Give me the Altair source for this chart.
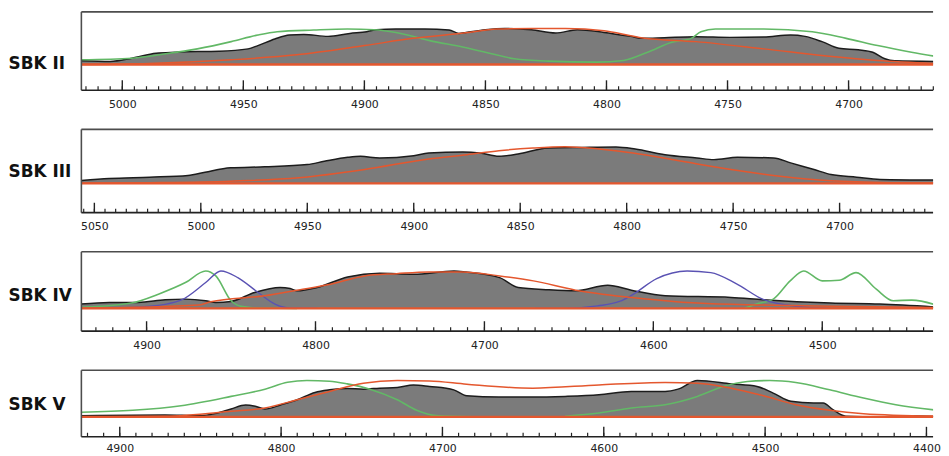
import altair as alt
import pandas as pd

# ---------------- data (heights in arbitrary units above baseline) ----------------
# SBK II
p1_grey_year = [5017, 5005, 4996, 4986, 4978, 4969, 4960, 4948, 4944, 4937, 4931, 4925, 4915, 4906, 4899,
                4895, 4887, 4875, 4865, 4861, 4858, 4850, 4842, 4831, 4821, 4812, 4801, 4790, 4785, 4776,
                4763, 4749, 4735, 4724, 4718, 4711, 4704, 4696, 4690, 4685, 4681, 4662]
p1_grey_val = [3.7, 3, 6.3, 11.3, 12.3, 13, 13.3, 15.7, 19, 25.7, 29.7, 30.3, 28.3, 31.3, 33,
               35, 35.7, 35.7, 34.7, 31.3, 32.3, 35, 36.3, 35, 31.7, 35, 32.3, 28.3, 26.3, 27,
               28, 27.3, 27.7, 29.7, 28.3, 23, 16.3, 14.7, 12.3, 5.7, 3.7, 3]
p1_red_year = [5017, 4989, 4955, 4928, 4900, 4880, 4859, 4845, 4831, 4817, 4801, 4790, 4785, 4763, 4735,
               4708, 4688, 4662]
p1_red_val = [0, 1, 4.7, 9.7, 19, 26.3, 31.7, 35.7, 36.3, 36.3, 34, 29, 26.7, 23, 15.7, 8.3, 4, 0.7]
p1_green_year = [5017, 4996, 4982, 4969, 4955, 4944, 4936, 4921, 4907, 4896, 4887, 4873, 4859, 4850, 4838,
                 4824, 4804, 4793, 4783, 4773, 4765, 4761, 4755, 4735, 4715, 4701, 4688, 4674, 4662]
p1_green_val = [4.7, 6.3, 10.7, 15.7, 23, 29.7, 33, 34.7, 35.7, 35, 32.3, 24, 17.3, 12.3, 5.7,
                3.3, 2.3, 4, 12.3, 22.3, 26.3, 33, 35.7, 35.7, 33, 26.3, 19, 12.3, 7.3]

# SBK III
p2_grey_year = [5056, 5043, 5024, 5006, 4998, 4986, 4970, 4950, 4942, 4931, 4925, 4916, 4900, 4893, 4877,
                4869, 4860, 4851, 4837, 4821, 4805, 4796, 4782, 4767, 4759, 4748, 4731, 4723, 4712, 4704,
                4692, 4681, 4652]
p2_grey_val = [3, 5, 6.3, 8, 11.3, 15.7, 16.7, 19, 22.3, 26.3, 27.3, 25.7, 28, 30.7, 31.7,
               30.7, 27.3, 29.7, 35.7, 36.3, 36.7, 34.7, 29, 25.7, 24, 26.3, 25.7, 20.7, 14, 9,
               6.3, 4, 3.3]
p2_red_year = [5056, 5024, 4986, 4954, 4923, 4893, 4875, 4860, 4844, 4829, 4813, 4797, 4774, 4751, 4728,
               4704, 4674, 4652]
p2_red_val = [0.3, 0.8, 2.3, 5.7, 14, 24.7, 29, 33, 35.7, 37, 34.7, 30.7, 22.3, 14, 7.3, 2.7, 0.7, 0.3]

# SBK IV
p3_grey_year = [4939, 4922, 4905, 4889, 4877, 4865, 4859, 4850, 4836, 4821, 4815, 4811, 4799, 4781, 4762,
                4742, 4718, 4711, 4691, 4680, 4662, 4646, 4627, 4613, 4593, 4554, 4535, 4515, 4495, 4466,
                4430]
p3_grey_val = [4.3, 6, 6, 8.7, 9.3, 7.7, 6, 7, 16, 21, 20, 17.7, 21, 31.7, 35.3,
               34.3, 37.7, 36.7, 31, 21, 18.7, 17.7, 23.3, 18.3, 12.7, 11, 8.7, 6.7, 5.3, 4.3,
               1]
p3_red_year = [4939, 4869, 4862, 4830, 4811, 4791, 4771, 4752, 4733, 4713, 4691, 4671, 4646, 4613, 4574,
               4535, 4495, 4430]
p3_red_val = [0, 3.3, 6.7, 12.7, 18.3, 24.3, 32.7, 35, 36.7, 36.7, 32.7, 27.7, 18.3, 11, 5.3, 3.3, 2, 0.7]
p3_green1_year = [4939, 4928, 4909, 4893, 4877, 4865, 4859, 4850, 4844, 4834, 4811]
p3_green1_val = [1, 2, 5.3, 14.3, 26, 37.7, 32.7, 7.7, 2, 0.3, 0]
p3_green2_year = [4546, 4539, 4529, 4519, 4511, 4500, 4490, 4480, 4468, 4458, 4447, 4430]
p3_green2_val = [0, 4.3, 9.3, 27.7, 37.7, 27.7, 28.3, 36, 19.3, 7.7, 8.3, 2]
p3_blue1_year = [4939, 4909, 4889, 4879, 4865, 4856, 4846, 4834, 4824, 4815, 4799]
p3_blue1_val = [0, 1, 4, 8.7, 26, 37.7, 31, 16, 4.3, 0.3, 0]
p3_blue2_year = [4670, 4652, 4633, 4620, 4613, 4598, 4580, 4566, 4551, 4535, 4515, 4495]
p3_blue2_val = [0, 0, 2.5, 7, 13, 30, 37.7, 36, 25, 9, 2, 0]

# SBK V
p4_grey_year = [4924, 4872, 4851, 4841, 4831, 4822, 4816, 4810, 4800, 4790, 4779, 4770, 4759, 4749, 4739,
                4728, 4718, 4708, 4693, 4685, 4665, 4644, 4624, 4603, 4583, 4562, 4554, 4542, 4521, 4505,
                4495, 4484, 4470, 4464, 4458, 4450, 4429, 4413, 4391]
p4_grey_val = [1.3, 2, 1.3, 3.3, 8, 12, 10.7, 8, 12.3, 17.3, 24.7, 27.3, 28.7, 28, 29,
               29.7, 32.3, 30.7, 27.3, 21.3, 20, 20, 20.7, 22.3, 25.7, 25.7, 28, 36.7, 33.3, 30.7,
               24, 15.7, 14, 14, 7.3, 0.7, 0, 1.3, 0]
p4_red_year = [4924, 4872, 4831, 4810, 4790, 4770, 4749, 4728, 4708, 4685, 4644, 4603, 4562, 4542, 4521,
               4501, 4481, 4460, 4439, 4391]
p4_red_val = [0, 0.7, 5.7, 9, 17.3, 25.7, 34, 36.7, 36.3, 33, 29, 32.3, 34.7, 34, 29,
              21.3, 12.3, 6.7, 3.3, 0.7]
p4_green1_year = [4924, 4892, 4862, 4831, 4810, 4796, 4784, 4770, 4759, 4745, 4728, 4716, 4704, 4680]
p4_green1_val = [4.7, 6.7, 11.3, 20.7, 28, 35, 36.7, 36, 33.3, 28, 17.3, 6.7, 1.3, 0]
p4_green2_year = [4624, 4603, 4583, 4562, 4542, 4526, 4511, 4497, 4481, 4460, 4439, 4419, 4391]
p4_green2_val = [0.7, 4, 9, 12.3, 20.7, 30.7, 35.7, 36.7, 34.7, 27.3, 19, 12.3, 6.3]

# axis ticks
p1_major = [5000, 4950, 4900, 4850, 4800, 4750, 4700]
p1_minor = list(range(4665, 5016, 5))
p2_major = [5050, 5000, 4950, 4900, 4850, 4800, 4750, 4700]
p2_minor = list(range(4660, 5056, 5))
p3_major = [4900, 4800, 4700, 4600, 4500]
p3_minor = list(range(4440, 4931, 10))
p4_major = [4900, 4800, 4700, 4600, 4500, 4400]
p4_minor = list(range(4400, 4921, 10))

GREY = "#7b7b7b"
OUTLINE = "#1c1c1c"
RED = "#e4572e"
GREEN = "#62b866"
BLUE = "#5a52b3"
FRAME = "#4d4d4d"
W = 859


def curves(pairs):
    rows = []
    for i, (ys, vs) in enumerate(pairs):
        for y, v in zip(ys, vs):
            rows.append({"year": y, "value": v, "curve": f"c{i}"})
    return pd.DataFrame(rows)


def panel(name, grey, red, greens, blues, xdom, major, minor, H, ydom, title_y, lab_pad=8):
    X = alt.X("year:Q", scale=alt.Scale(domain=xdom, reverse=True, nice=False, zero=False),
              axis=alt.Axis(values=major, format="d", ticks=False, tickSize=0, domain=False, grid=False,
                            labelFont="DejaVu Sans", labelFontSize=11, labelColor="#222",
                            labelPadding=lab_pad, labelFlush=False, labelOverlap=False),
              title=None)
    Y = alt.Y("value:Q", scale=alt.Scale(domain=ydom, nice=False, zero=False), stack=None,
              title=name,
              axis=alt.Axis(labels=False, ticks=False, domain=False, grid=False,
                            titleAngle=0, titleAlign="left", titleBaseline="middle",
                            titleX=-74, titleY=title_y, titleFont="DejaVu Sans",
                            titleFontSize=17, titleFontWeight="bold", titleColor="#111"))
    one = pd.DataFrame({"a": [0]})
    g = curves([grey])
    layers = [
        alt.Chart(g).mark_area(color=GREY, interpolate="monotone", clip=True).encode(x=X, y=Y, y2=alt.datum(0)),
        alt.Chart(g).mark_line(color=OUTLINE, strokeWidth=1.5, interpolate="monotone", clip=True).encode(x=X, y=Y),
    ]
    if greens:
        layers.append(alt.Chart(curves(greens)).mark_line(color=GREEN, strokeWidth=1.6, interpolate="monotone", clip=True)
                      .encode(x=X, y=Y, detail="curve:N"))
    if blues:
        layers.append(alt.Chart(curves(blues)).mark_line(color=BLUE, strokeWidth=1.4, interpolate="monotone", clip=True)
                      .encode(x=X, y=Y, detail="curve:N"))
    layers.append(alt.Chart(curves([red])).mark_line(color=RED, strokeWidth=1.5, interpolate="monotone", clip=True)
                  .encode(x=X, y=Y))
    layers.append(alt.Chart(one).mark_rule(color=RED, strokeWidth=2.4)
                  .encode(y=alt.datum(0), x=alt.value(0), x2=alt.value(W)))
    layers.append(alt.Chart(pd.DataFrame({"year": major})).mark_rule(color="#222", strokeWidth=1.4)
                  .encode(x=X, y=alt.value(H - 10), y2=alt.value(H)))
    layers.append(alt.Chart(pd.DataFrame({"year": minor})).mark_rule(color="#222", strokeWidth=1.2)
                  .encode(x=X, y=alt.value(H - 4), y2=alt.value(H)))
    # frame (top, left, bottom)
    layers.append(alt.Chart(one).mark_rule(color=FRAME, strokeWidth=1.6)
                  .encode(x=alt.value(0), x2=alt.value(W), y=alt.value(0)))
    layers.append(alt.Chart(one).mark_rule(color=FRAME, strokeWidth=1.6)
                  .encode(x=alt.value(0), y=alt.value(0), y2=alt.value(H)))
    layers.append(alt.Chart(one).mark_rule(color="#222", strokeWidth=1.6)
                  .encode(x=alt.value(0), x2=alt.value(W), y=alt.value(H)))
    return alt.layer(*layers).properties(width=W, height=H)


c1 = panel("SBK II", (p1_grey_year, p1_grey_val), (p1_red_year, p1_red_val),
           [(p1_green_year, p1_green_val)], [], [4665.1, 5016.9], p1_major, p1_minor,
           79, [-26, 53], 52)
c2 = panel("SBK III", (p2_grey_year, p2_grey_val), (p2_red_year, p2_red_val),
           [], [], [4656.1, 5056.1], p2_major, p2_minor,
           84, [-29.5, 54.5], 43)
c3 = panel("SBK IV", (p3_grey_year, p3_grey_val), (p3_red_year, p3_red_val),
           [(p3_green1_year, p3_green1_val), (p3_green2_year, p3_green2_val)],
           [(p3_blue1_year, p3_blue1_val), (p3_blue2_year, p3_blue2_val)],
           [4434.4, 4938.6], p3_major, p3_minor, 80, [-23, 57], 44.5)
c4 = panel("SBK V", (p4_grey_year, p4_grey_val), (p4_red_year, p4_red_val),
           [(p4_green1_year, p4_green1_val), (p4_green2_year, p4_green2_val)], [],
           [4395.9, 4923.8], p4_major, p4_minor, 67, [-20, 47], 35, lab_pad=6)

chart = (
    alt.vconcat(c1, c2, c3, c4, spacing=19.5)
    .resolve_scale(x="independent", y="independent")
    .properties(padding={"left": 0, "top": 1, "right": 0, "bottom": 0}, background="white")
    .configure_view(stroke=None)
)

chart.save("out.html", embed_options={"renderer": "svg", "actions": False})
